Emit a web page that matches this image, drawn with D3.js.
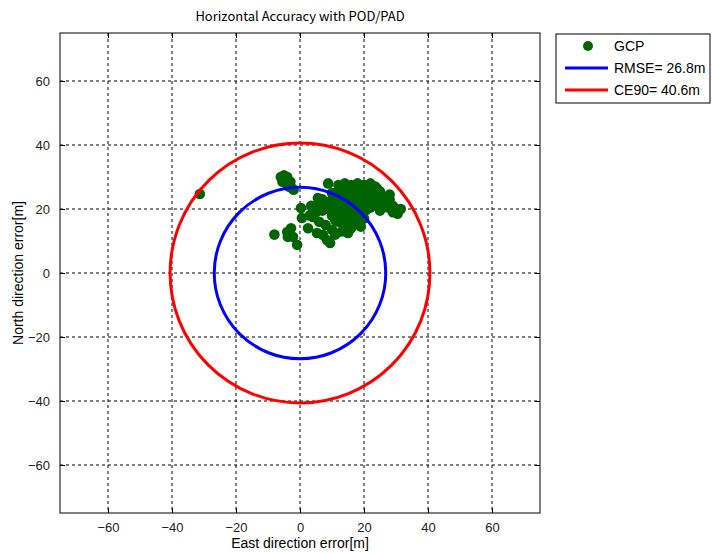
<!DOCTYPE html>
<html>
<head>
<meta charset="utf-8">
<script src="https://cdn.jsdelivr.net/npm/d3@7"></script>
<style>
  body { margin: 0; background: #fff; }
  text { font-family: "Liberation Sans", Arial, sans-serif; }
</style>
</head>
<body>
<svg id="chart" width="712" height="553"></svg>
<script>
// GCP horizontal errors [east, north] in metres
const gcpEast = [
  -31.3, -6, -5, -4, -5.5, -4, -3.5, -2.5, -2, -4.5, -3,
  8.8, 0.3, 0.6, -8, -0.9, -2.8, -4, -3.8, -2.2, 2.5, 5.3, 7.2, 8.4, 9.4, 5.6,
  12, 14, 16, 18, 20, 22, 23.5, 21, 19, 17, 15, 13, 11, 13, 15, 17, 19, 21, 23, 25,
  24, 22, 20, 18, 16, 14, 12, 10, 8, 6, 4, 5, 7, 9, 11, 13, 15, 17, 19, 21,
  10, 12, 14, 16, 18, 12, 14, 16, 18, 14, 16, 13, 15, 19, 20,
  6, 8, 10, 4, 11,
  26, 27, 28, 27.5, 29, 30, 30.5, 29, 26, 25, 28,
  10, 7, 11, 13, 15, 17, 19, 21, 23, 14, 16, 18, 20, 22, 24,
  12, 14, 16, 18, 20, 22, 24, 11, 13, 15, 17, 3, 3.5, 31.5
];
const gcpNorth = [
  24.7, 30, 30.5, 30, 28.5, 28, 27, 26.5, 26, 29, 28.5,
  28, 20.3, 17.2, 12, 8.8, 14, 12.8, 11.3, 11.3, 14, 12.5, 11.9, 10.3, 9.4, 23.4,
  27.5, 28, 27.5, 28, 27.5, 28, 27, 26, 26, 26, 26, 26, 25, 24, 24, 24.5, 24, 24.5, 25, 25.5,
  23, 22.5, 22, 22, 22.5, 22, 22.5, 23, 22, 21, 20.5, 19, 19.5, 20, 20, 20, 20, 20, 20.5, 20,
  18, 18, 18, 18.5, 18, 16, 16, 16.5, 16, 14, 14, 13, 12.5, 14.5, 17,
  16, 15, 13.5, 17.5, 12,
  23.5, 22, 23, 20.5, 21, 20, 18.5, 19, 21, 19.5, 24.5,
  25, 23, 21.5, 21, 22, 23, 23, 23, 22, 25, 25, 25, 25, 26, 26.5,
  19, 19.5, 19.5, 21, 19, 20.5, 21.5, 16.5, 17.5, 15, 17, 18, 21, 20
];
const ticks = [-60, -40, -20, 0, 20, 40, 60];
const rmse = 26.8;
const ce90 = 40.6;
const legendLabels = ["GCP", "RMSE= 26.8m", "CE90= 40.6m"];

const svg = d3.select("#chart"),
      margin = { top: 33, left: 60 },
      width = 480,
      height = 480,
      g = svg.append("g").attr("transform", `translate(${margin.left},${margin.top})`);

const xScale = d3.scaleLinear().domain([-75, 75]).range([0, width]);
const yScale = d3.scaleLinear().domain([-75, 75]).range([height, 0]);

// grid
g.selectAll(".vgrid").data(ticks).join("line")
    .attr("x1", d => xScale(d)).attr("x2", d => xScale(d))
    .attr("y1", 0).attr("y2", height)
    .attr("stroke", "#000").attr("stroke-width", 1).attr("stroke-dasharray", "3,3");
g.selectAll(".hgrid").data(ticks).join("line")
    .attr("y1", d => yScale(d)).attr("y2", d => yScale(d))
    .attr("x1", 0).attr("x2", width)
    .attr("stroke", "#000").attr("stroke-width", 1).attr("stroke-dasharray", "3,3");

// axes (ticks inward, MATLAB-like)
g.append("g").attr("transform", `translate(0,${height})`)
    .call(d3.axisBottom(xScale).tickValues(ticks).tickSizeInner(-5).tickSizeOuter(0).tickPadding(10));
g.append("g")
    .call(d3.axisLeft(yScale).tickValues(ticks).tickSizeInner(-5).tickSizeOuter(0).tickPadding(10));
g.append("g").call(d3.axisTop(xScale).tickValues(ticks).tickSizeInner(-5).tickSizeOuter(0).tickFormat(""));
g.append("g").attr("transform", `translate(${width},0)`)
    .call(d3.axisRight(yScale).tickValues(ticks).tickSizeInner(-5).tickSizeOuter(0).tickFormat(""));
g.selectAll(".domain").remove();
g.selectAll(".tick text").style("font-size", "13px").style("font-family", "Liberation Sans, Arial, sans-serif").attr("fill", "#222");

g.append("rect").attr("width", width).attr("height", height)
    .attr("fill", "none").attr("stroke", "#000").attr("stroke-width", 1);

// points
const points = gcpEast.map((e, i) => ({ e: e, n: gcpNorth[i] }));
g.selectAll(".gcp").data(points).join("circle")
    .attr("class", "gcp")
    .attr("cx", d => xScale(d.e))
    .attr("cy", d => yScale(d.n))
    .attr("r", 5.3)
    .attr("fill", "#006400");

// circles
g.append("circle").attr("cx", xScale(0)).attr("cy", yScale(0))
    .attr("r", xScale(rmse) - xScale(0))
    .attr("fill", "none").attr("stroke", "#0000ff").attr("stroke-width", 3);
g.append("circle").attr("cx", xScale(0)).attr("cy", yScale(0))
    .attr("r", xScale(ce90) - xScale(0))
    .attr("fill", "none").attr("stroke", "#ff0000").attr("stroke-width", 3);

// titles
svg.append("text")
    .attr("x", margin.left + width / 2).attr("y", 21)
    .attr("text-anchor", "middle")
    .style("font-family", "Noto Sans CJK KR, sans-serif")
    .style("font-size", "13px")
    .text("Horizontal Accuracy with POD/PAD");
svg.append("text")
    .attr("x", margin.left + width / 2).attr("y", 548)
    .attr("text-anchor", "middle")
    .style("font-size", "14px")
    .text("East direction error[m]");
svg.append("text")
    .attr("transform", `translate(23,${margin.top + height / 2}) rotate(-90)`)
    .attr("text-anchor", "middle")
    .style("font-size", "14px")
    .text("North direction error[m]");

// legend
const legend = svg.append("g").attr("transform", "translate(556,34)");
legend.append("rect").attr("width", 154).attr("height", 69)
    .attr("fill", "#fff").attr("stroke", "#000").attr("stroke-width", 1);
const legendColors = ["#006400", "#0000ff", "#ff0000"];
const rows = legend.selectAll(".row").data(legendLabels).join("g")
    .attr("transform", (d, i) => `translate(0,${12 + i * 22})`);
rows.each(function(d, i) {
    const r = d3.select(this);
    if (i === 0) {
        r.append("circle").attr("cx", 32).attr("cy", 0).attr("r", 5).attr("fill", legendColors[i]);
    } else {
        r.append("line").attr("x1", 9).attr("x2", 52).attr("y1", 0).attr("y2", 0)
            .attr("stroke", legendColors[i]).attr("stroke-width", 3);
    }
    r.append("text").attr("x", 58).attr("y", 5).style("font-size", "14px").text(d);
});
</script>
</body>
</html>
